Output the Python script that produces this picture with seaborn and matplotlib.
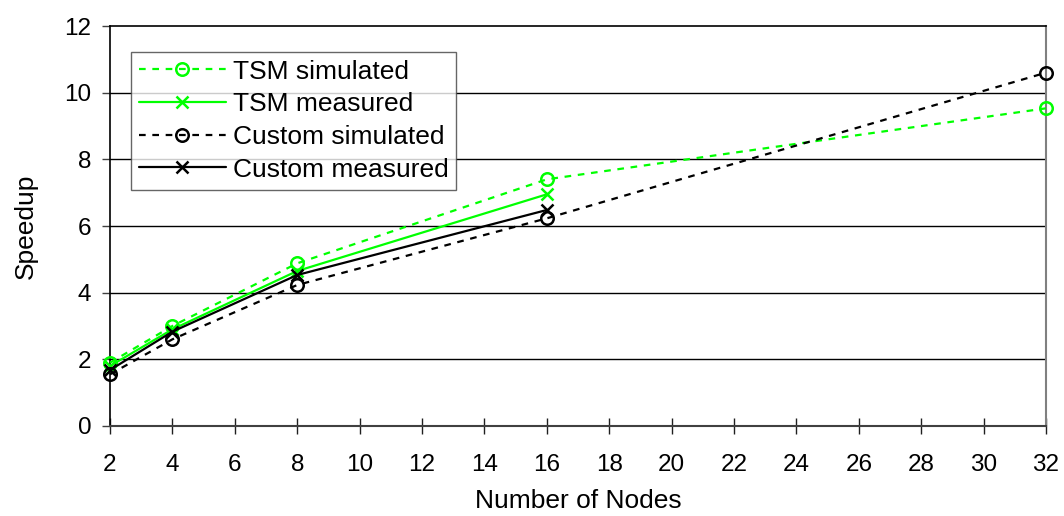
import matplotlib
matplotlib.use("Agg")
import matplotlib.pyplot as plt
import seaborn as sns
import pandas as pd

nodes = [2, 4, 8, 16, 32]
tsm_sim = [1.9, 3.0, 4.88, 7.4, 9.53]
tsm_meas = [1.8, 2.9, 4.65, 6.95]
custom_sim = [1.55, 2.6, 4.23, 6.23, 10.6]
custom_meas = [1.68, 2.83, 4.53, 6.48]

x_ticks = list(range(2, 33, 2))
y_ticks = list(range(0, 13, 2))

sns.set_theme(style="white")
plt.rcParams['font.family'] = ['Liberation Sans', 'DejaVu Sans']
plt.rcParams['text.color'] = 'black'
plt.rcParams['axes.labelcolor'] = 'black'
plt.rcParams['xtick.color'] = 'black'
plt.rcParams['ytick.color'] = 'black'

fig = plt.figure(figsize=(10.64, 5.16), dpi=100)
ax = fig.add_axes([110/1064, 1 - 426/516, 936/1064, 400/516])

green = "#00ff00"
series = [
    ("TSM simulated", nodes, tsm_sim, green, (0, (3, 3)), "o"),
    ("TSM measured", nodes[:4], tsm_meas, green, "-", "x"),
    ("Custom simulated", nodes, custom_sim, "black", (0, (3, 3)), "o"),
    ("Custom measured", nodes[:4], custom_meas, "black", "-", "x"),
]
for label, xs, ys, col, ls, mk in series:
    df = pd.DataFrame({"x": xs, "y": ys})
    sns.lineplot(data=df, x="x", y="y", ax=ax, color=col, linestyle=ls,
                 marker=mk, markersize=9, markerfacecolor="none",
                 markeredgecolor=col, markeredgewidth=1.8, linewidth=1.6,
                 label=label, clip_on=False, zorder=3)

ax.set_xlim(2, 32)
ax.set_ylim(0, 12)
ax.set_xticks(x_ticks)
ax.set_yticks(y_ticks)
ax.set_xticklabels([str(v) for v in x_ticks], fontsize=17.5)
ax.set_yticklabels([str(v) for v in y_ticks], fontsize=17.5)
ax.set_xlabel("Number of Nodes", fontsize=19, labelpad=9)
ax.set_ylabel("Speedup", fontsize=19, labelpad=19)

for yv in y_ticks[1:-1]:
    ax.axhline(yv, color="black", linewidth=1.0, zorder=1)

for s in ["left", "top"]:
    ax.spines[s].set_color("black")
    ax.spines[s].set_linewidth(1.2)
ax.spines["right"].set_color("#808080")
ax.spines["right"].set_linewidth(1.5)
ax.spines["bottom"].set_color("#404040")
ax.spines["bottom"].set_linewidth(1.5)

ax.tick_params(axis="x", direction="inout", length=12, width=1, color="#202020", pad=14.5, bottom=True)
ax.tick_params(axis="y", direction="out", length=6, width=1, color="#404040", pad=7.5, left=True)

leg = ax.legend(loc="upper left", bbox_to_anchor=(0.0224, 0.936), fontsize=19,
                frameon=True, fancybox=False, edgecolor="#404040",
                handlelength=3.3, handletextpad=0.25, labelspacing=0.33,
                borderpad=0.3, borderaxespad=0)
leg.get_frame().set_linewidth(1.0)

fig.savefig("out.png", dpi=100)
